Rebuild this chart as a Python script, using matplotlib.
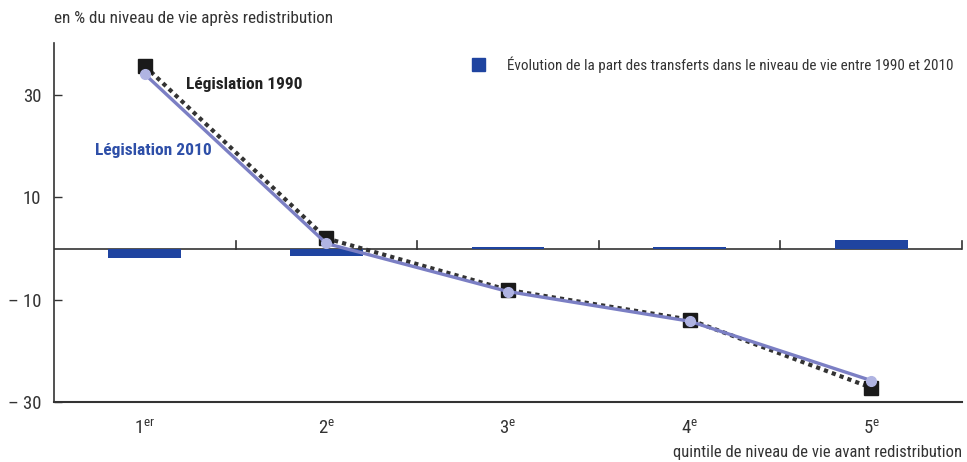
import matplotlib
matplotlib.use("Agg")
import matplotlib.pyplot as plt
import numpy as np

quintiles = ["1$^{\\mathrm{er}}$", "2$^{\\mathrm{e}}$", "3$^{\\mathrm{e}}$", "4$^{\\mathrm{e}}$", "5$^{\\mathrm{e}}$"]
evolution = [-1.8, -1.4, 0.3, 0.3, 1.6]
legis_1990 = [35.7, 2.0, -8.1, -13.9, -27.2]
legis_2010 = [34.1, 1.0, -8.4, -14.2, -25.8]
yticks = [30, 10, -10, -30]
yticklabels = ["30", "10", "– 10", "– 30"]

FNAME = "Roboto Condensed"
FONT = [FNAME, "DejaVu Sans"]
plt.rcParams["font.family"] = FONT
plt.rcParams["mathtext.fontset"] = "custom"
plt.rcParams["mathtext.rm"] = FNAME
plt.rcParams["mathtext.it"] = FNAME

BAR = "#1f44a0"
L2010 = "#7b7fc4"
M2010 = "#b0b4e2"
L1990 = "#333333"
TXT = "#333333"

fig = plt.figure(figsize=(9.67, 4.62), dpi=100)
ax = fig.add_axes([54/967, 1-402/462, (962-54)/967, (402-43)/462])

x = np.arange(len(quintiles))
ax.bar(x, evolution, width=0.4, color=BAR, zorder=2)
ax.axhline(0, color="#333333", lw=1.2, zorder=1)
# separators above zero line
for s in np.arange(0.5, len(quintiles), 1.0):
    ax.plot([s, s], [0, 1.4], color="#333333", lw=1.2, zorder=1, clip_on=False)

ax.plot(x, legis_1990, color=L1990, lw=3, linestyle=(0, (1, 1)), zorder=3)
ax.plot(x, legis_1990, ls="none", marker="s", ms=9.5, color="#1a1a1a", zorder=3)
ax.plot(x, legis_2010, color=L2010, lw=2.4, zorder=4)
ax.plot(x, legis_2010, ls="none", marker="o", ms=7, color=M2010, zorder=5)

ax.set_xlim(-0.5, 4.5)
ax.set_ylim(-30, 40.2)
ax.set_yticks(yticks)
ax.set_yticklabels(yticklabels, fontsize=13.5, color=TXT)
ax.set_xticks(x)
ax.set_xticklabels(quintiles, fontsize=13.5, color=TXT)
ax.tick_params(axis="x", length=0, pad=12)
ax.tick_params(axis="y", direction="in", length=6, width=1, color="#333333", pad=9)

for side in ["top", "right"]:
    ax.spines[side].set_visible(False)
ax.spines["left"].set_color("#333333")
ax.spines["bottom"].set_color("#333333")
ax.spines["left"].set_linewidth(1.2)
ax.spines["bottom"].set_linewidth(1.5)

ax.text(0.227, 32.0, "Législation 1990", fontsize=12.5, fontweight="bold", color="#222222", va="center", ha="left")
ax.text(-0.274, 19.2, "Législation 2010", fontsize=12.5, fontweight="bold", color="#2e4fa8", va="center", ha="left")

# legend
fig.patches.append(plt.Rectangle((472/967, 1-71/462), 13/967, 13/462, transform=fig.transFigure, color=BAR))
fig.text(507/967, 1-65/462, "Évolution de la part des transferts dans le niveau de vie entre 1990 et 2010",
         fontsize=10.9, color=TXT, va="center", ha="left")

fig.text(54/967, 1-18/462, "en % du niveau de vie après redistribution", fontsize=12.3, color=TXT, va="center", ha="left")
fig.text(962/967, 1-452/462, "quintile de niveau de vie avant redistribution", fontsize=12, color=TXT, va="center", ha="right")

fig.savefig("out.png", dpi=100)
